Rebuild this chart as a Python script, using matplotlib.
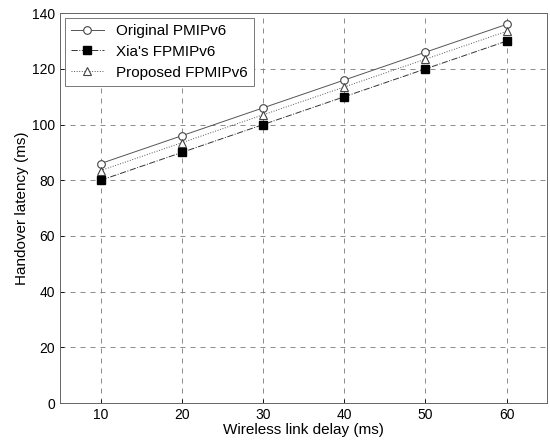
import matplotlib
matplotlib.use('Agg')
import matplotlib.pyplot as plt

plt.rcParams['font.family'] = ['Liberation Sans', 'DejaVu Sans']

# data
delay = [10, 20, 30, 40, 50, 60]
original = [86, 96, 106, 116, 126, 136]
xia = [80, 90, 100, 110, 120, 130]
proposed = [83.5, 93.5, 103.5, 113.5, 123.5, 133.5]

fig = plt.figure(figsize=(5.5, 4.41), dpi=100)
ax = fig.add_axes([0.109, 0.086, 0.886, 0.884])

ax.plot(delay, original, color='#555555', lw=0.7, ls='-', marker='o',
        ms=5.5, mfc='white', mec='#444444', mew=0.8, label='Original PMIPv6')
ax.plot(delay, xia, color='#333333', lw=0.7, ls='-.', marker='s',
        ms=6, mfc='black', mec='black', label="Xia's FPMIPv6")
ax.plot(delay, proposed, color='#555555', lw=0.7, ls=':', marker='^',
        ms=6, mfc='white', mec='#444444', mew=0.8, label='Proposed FPMIPv6')

ax.set_xlim(5, 65)
ax.set_ylim(0, 140)
ax.set_xticks(delay)
ax.set_yticks(range(0, 141, 20))
ax.tick_params(direction='in', length=3, labelsize=10, width=0.6)
ax.grid(True, color='#777777', ls=(0, (6, 6)), lw=0.6)
for s in ax.spines.values():
    s.set_color('#666666')
    s.set_linewidth(0.7)

ax.set_xlabel('Wireless link delay (ms)', fontsize=11, labelpad=1)
ax.set_ylabel('Handover latency (ms)', fontsize=11, labelpad=2)

leg = ax.legend(loc='upper left', fontsize=11, fancybox=False,
                framealpha=1, edgecolor='#777777', borderaxespad=0.3,
                handlelength=2.2, labelspacing=0.45, borderpad=0.4)
leg.get_frame().set_linewidth(0.7)

fig.savefig('out.png', dpi=100)
